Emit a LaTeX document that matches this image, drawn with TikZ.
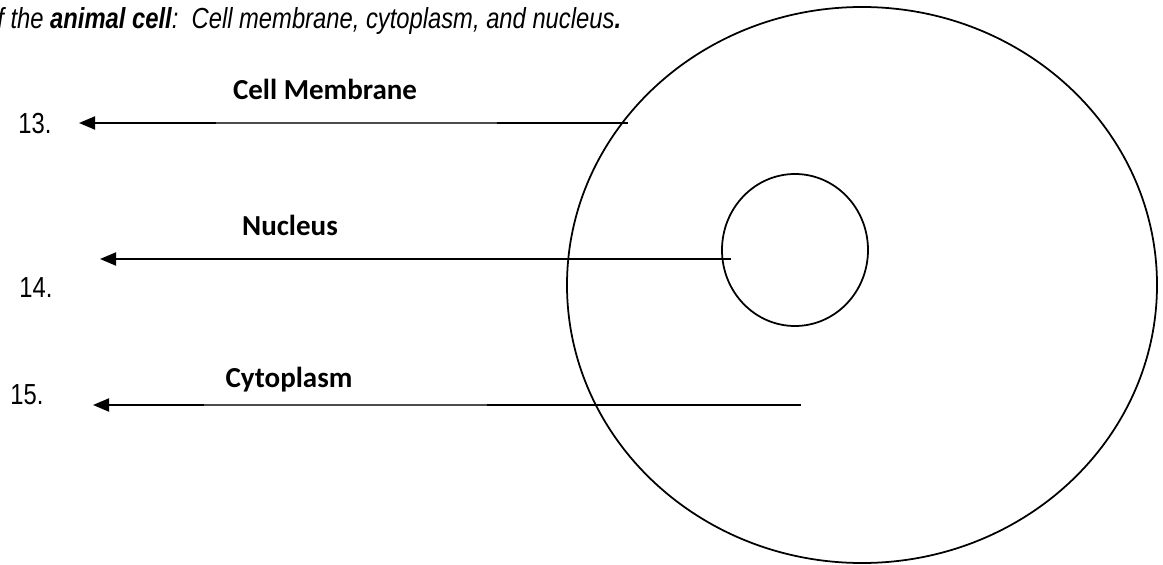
\documentclass[tikz,border=0pt]{standalone}
\usepackage{fontspec}
\setmainfont{Liberation Sans}
\newfontfamily\narrowfont[FakeStretch=0.82]{Liberation Sans}
\newfontfamily\labelfont{Carlito}
\usepackage{tikz}
\usetikzlibrary{shapes.geometric, arrows.meta, positioning}
\tikzset{
  cellline/.style={
    draw, ellipse, line width=1pt, inner sep=0pt
  },
  pointarrow/.style={
    -{Triangle[length=3.2mm, width=2.6mm]}, line width=1.1pt
  },
  pointline/.style={
    line width=1.1pt
  },
  pointthin/.style={
    line width=0.6pt, color=gray!60!black
  },
  partlabel/.style={
    font=\labelfont\bfseries\fontsize{16.5}{19}\selectfont,
    inner sep=0pt, anchor=base
  },
  numlabel/.style={
    font=\narrowfont\fontsize{16.5}{19}\selectfont,
    inner sep=0pt, anchor=base west
  },
}

\begin{document}
\begin{tikzpicture}[x=0.2mm, y=-0.2mm]
  \useasboundingbox (0,0) rectangle (1163,565);

  % --- heading (cut at the left) ---
  \node[font=\narrowfont\itshape\fontsize{16.5}{19}\selectfont,
    inner sep=0pt, anchor=base west] (heading) at (-3,28)
    {f the \textbf{animal cell}:\ \ Cell membrane, cytoplasm, and nucleus\textbf{.}};

  % --- the cell ---
  \node[cellline, minimum width=118mm, minimum height=111.2mm]
    (cell) at (862,285) {};
  \node[cellline, minimum width=29.2mm, minimum height=30.4mm]
    (nucleus) at (795,250) {};

  % --- numbers ---
  \node[numlabel] (num13) at (18,133) {13.};
  \node[numlabel] (num14) at (19,297) {14.};
  \node[numlabel] (num15) at (10,404) {15.};

  % --- part names ---
  \node[partlabel] (memname) at (325,99) {Cell Membrane};
  \node[partlabel] (nucname) at (290,235) {Nucleus};
  \node[partlabel] (cytname) at (289,387) {Cytoplasm};

  % Arrow ends
  \coordinate (memEnd) at (628,123);
  \coordinate (memB) at (497,123);
  \coordinate (memA) at (216,123);
  \coordinate (memTip) at (79,123);

  \coordinate (nucEnd) at (731,259);
  \coordinate (nucTip) at (100,259);

  \coordinate (cytEnd) at (801,405);
  \coordinate (cytB) at (487,405);
  \coordinate (cytA) at (204,405);
  \coordinate (cytTip) at (93,405);

  % Arrows
  \draw[pointline] (memEnd) -- (memB);
  \draw[pointthin] (memB) -- (memA);
  \draw[pointarrow] (memA) -- (memTip);

  \draw[pointarrow] (nucEnd) -- (nucTip);

  \draw[pointline] (cytEnd) -- (cytB);
  \draw[pointthin] (cytB) -- (cytA);
  \draw[pointarrow] (cytA) -- (cytTip);
\end{tikzpicture}
\end{document}
